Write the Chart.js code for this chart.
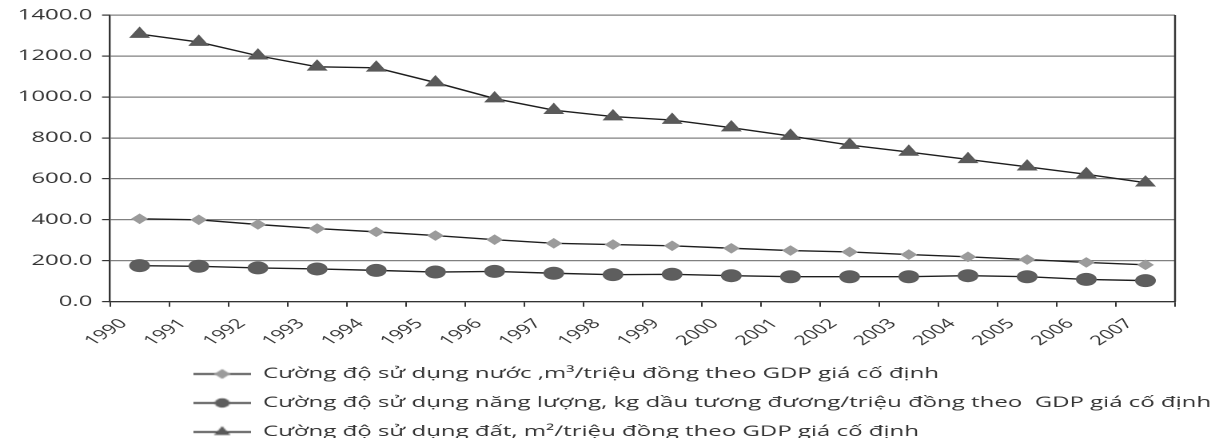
<!DOCTYPE html>
<html lang="vi">
<head>
<meta charset="utf-8">
<title>Cường độ sử dụng tài nguyên 1990–2007</title>
<script src="https://cdn.jsdelivr.net/npm/chart.js@4/dist/chart.umd.min.js"></script>
<style>
  html, body { margin: 0; padding: 0; background: #ffffff; overflow: hidden; }
  #frame { width: 760px; height: 438px; transform: scaleX(1.5987); transform-origin: 0 0; }
  canvas { display: block; }
</style>
</head>
<body>
<div id="frame"><canvas id="chart" width="760" height="438"></canvas></div>
<script>
// Years on the category axis
const years = ['1990','1991','1992','1993','1994','1995','1996','1997','1998',
               '1999','2000','2001','2002','2003','2004','2005','2006','2007'];

// Water use intensity, m³ per million VND of GDP (constant prices)
const waterIntensity = [405, 400, 377, 357, 341, 323, 303, 285, 279,
                        273, 261, 250, 243, 230, 219, 206, 192, 180];

// Energy use intensity, kg oil equivalent per million VND of GDP
const energyIntensity = [176, 173, 165, 160, 153, 145, 148, 139, 132,
                         134, 127, 122, 122, 122, 127, 122, 109, 103];

// Land use intensity, m² per million VND of GDP
const landIntensity = [1307, 1268, 1201, 1147, 1142, 1070, 992, 935, 904,
                       887, 850, 809, 765, 731, 695, 659, 622, 581];

// Value-axis ticks
const yTicks = [0, 200, 400, 600, 800, 1000, 1200, 1400];

// Legend captions
const seriesNames = [
  'Cường độ sử dụng nước ,m³/triệu đồng theo GDP giá cố định',
  'Cường độ sử dụng năng lượng, kg dầu tương đương/triệu đồng theo  GDP giá cố định',
  'Cường độ sử dụng đất, m²/triệu đồng theo GDP giá cố định'
];

const FONT = '"Open Sans", "DejaVu Sans", sans-serif';
const INK = '#333333';
const LINE = '#1e1e1e';

const seriesStyles = [
  { fill: '#9b9b9b', style: 'rectRot',  radius: 4.6, legendRadius: 4 },
  { fill: '#5e5e5e', style: 'circle',   radius: 6,   legendRadius: 4 },
  { fill: '#5a5a5a', style: 'triangle', radius: 6.6, legendRadius: 4.5 }
];

// Small legend swatch: a short line with the series marker in the middle
function legendSwatch(s) {
  const c = document.createElement('canvas');
  c.width = 36; c.height = 14;
  const g = c.getContext('2d');
  g.strokeStyle = LINE;
  g.lineWidth = 1.4;
  g.beginPath(); g.moveTo(0, 7.5); g.lineTo(36, 7.5); g.stroke();
  g.fillStyle = s.fill;
  g.strokeStyle = s.fill;
  Chart.helpers.drawPoint(g, { pointStyle: s.style, radius: s.legendRadius, borderWidth: 1, rotation: 0 }, 18, 7.5);
  return c;
}

const swatches = seriesStyles.map(legendSwatch);

// Right-hand frame edge of the plot area
const plotFrame = {
  id: 'plotFrame',
  afterDraw(chart) {
    const { ctx, chartArea: a } = chart;
    ctx.save();
    ctx.strokeStyle = INK;
    ctx.lineWidth = 1.2;
    ctx.beginPath();
    ctx.moveTo(a.right, a.top);
    ctx.lineTo(a.right, a.bottom);
    ctx.stroke();
    ctx.restore();
  }
};

// Legend block sits under the plot, indented from the left edge
const legendPlacement = {
  id: 'legendPlacement',
  afterLayout(chart) {
    const lg = chart.legend;
    if (!lg) return;
    lg.left = 107;
    lg.top = 352;
    lg.bottom = chart.height;
    lg.right = chart.width;
    lg.width = lg.right - lg.left;
    lg.height = lg.bottom - lg.top;
  }
};

const datasets = [waterIntensity, energyIntensity, landIntensity].map((values, i) => ({
  label: seriesNames[i],
  data: values,
  borderColor: LINE,
  borderWidth: 1.4,
  backgroundColor: seriesStyles[i].fill,
  pointStyle: seriesStyles[i].style,
  pointRadius: seriesStyles[i].radius,
  pointHoverRadius: seriesStyles[i].radius,
  pointBackgroundColor: seriesStyles[i].fill,
  pointBorderColor: seriesStyles[i].fill,
  pointBorderWidth: 1,
  tension: 0,
  fill: false
}));

new Chart(document.getElementById('chart'), {
  type: 'line',
  data: { labels: years, datasets },
  plugins: [plotFrame, legendPlacement],
  options: {
    responsive: false,
    animation: false,
    devicePixelRatio: 2,
    layout: { padding: { left: 5, right: 25, top: 7, bottom: 0 } },
    plugins: {
      tooltip: { enabled: false },
      legend: {
        position: 'bottom',
        align: 'start',
        maxHeight: 80,
        labels: {
          usePointStyle: true,
          pointStyleWidth: 36,
          padding: 14,
          color: INK,
          font: { family: FONT, size: 15 },
          generateLabels(chart) {
            return chart.data.datasets.map((ds, i) => ({
              text: ds.label,
              datasetIndex: i,
              pointStyle: swatches[i],
              fillStyle: seriesStyles[i].fill,
              strokeStyle: seriesStyles[i].fill,
              lineWidth: 0,
              fontColor: INK,
              hidden: false
            }));
          }
        }
      }
    },
    scales: {
      x: {
        type: 'category',
        offset: true,
        border: { display: true, color: INK, width: 1.2 },
        grid: { offset: true, drawOnChartArea: false, tickLength: 5, tickColor: INK, tickWidth: 1 },
        ticks: {
          minRotation: 45,
          maxRotation: 45,
          autoSkip: false,
          padding: 9,
          labelOffset: -10,
          color: INK,
          font: { family: FONT, size: 13.5 }
        }
      },
      y: {
        min: 0,
        max: 1400,
        afterBuildTicks(scale) { scale.ticks = yTicks.map(v => ({ value: v })); },
        border: { display: true, color: INK, width: 1.2 },
        grid: { color: '#808080', lineWidth: 1.2, tickLength: 5, tickColor: INK },
        ticks: {
          padding: 6,
          color: INK,
          font: { family: FONT, size: 15 },
          callback: v => Number(v).toFixed(1)
        }
      }
    }
  }
});
</script>
</body>
</html>
